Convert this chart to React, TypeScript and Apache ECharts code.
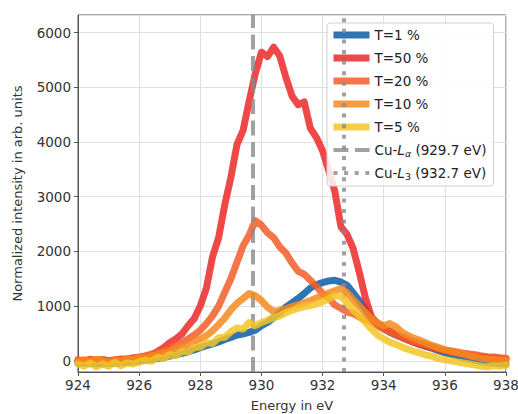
import { useEffect, useRef } from 'react';
import * as echarts from 'echarts';

const energies = [
  924.0, 924.2, 924.4, 924.6, 924.8, 925.0, 925.2, 925.4, 925.6, 925.8,
  926.0, 926.2, 926.4, 926.6, 926.8, 927.0, 927.2, 927.4, 927.6, 927.8,
  928.0, 928.2, 928.4, 928.6, 928.8, 929.0, 929.2, 929.4, 929.6, 929.8,
  930.0, 930.2, 930.4, 930.6, 930.8, 931.0, 931.2, 931.4, 931.6, 931.8,
  932.0, 932.2, 932.4, 932.6, 932.8, 933.0, 933.2, 933.4, 933.6, 933.8,
  934.0, 934.2, 934.4, 934.6, 934.8, 935.0, 935.2, 935.4, 935.6, 935.8,
  936.0, 936.2, 936.4, 936.6, 936.8, 937.0, 937.2, 937.4, 937.6, 937.8,
  938.0,
];

const t1 = [
  -40, -45, -50, -55, -55, -50, -45, -35, -25, -15,
  -5, 10, 25, 40, 60, 85, 110, 135, 165, 200,
  240, 275, 310, 345, 390, 425, 470, 490, 520, 560,
  640, 700, 790, 880, 980, 1060, 1140, 1230, 1330, 1390,
  1430, 1460, 1470, 1440, 1380, 1240, 1100, 940, 790, 680,
  590, 520, 470, 425, 380, 335, 295, 260, 225, 185,
  150, 115, 85, 55, 30, 5, -20, -35, -45, -55,
  -60,
];

const t50 = [
  10, -10, 20, 0, 15, -5, 10, 20, 30, 45,
  60, 80, 110, 170, 240, 330, 400, 490, 640, 770,
  1000, 1330, 1900, 2250, 2850, 3350, 3950, 4210, 4750, 5250,
  5640, 5560, 5730, 5570, 5180, 4840, 4680, 4730, 4250, 4080,
  3840, 3480, 3100, 2450, 2310, 2050, 1620, 1150, 800, 680,
  600, 540, 480, 430, 380, 340, 300, 270, 240, 210,
  185, 165, 145, 125, 105, 90, 75, 60, 50, 40,
  30,
];

const t20 = [
  20, 0, 30, 10, 25, 0, 20, 35, 30, 55,
  70, 90, 120, 150, 190, 230, 280, 330, 400, 470,
  560, 680, 820, 1000, 1250, 1500, 1800, 2100, 2300, 2560,
  2480, 2340, 2250, 2080, 1970, 1790, 1640, 1580, 1470, 1360,
  1230, 1150, 1020, 960, 890, 860, 800, 750, 700, 640,
  580, 530, 480, 430, 390, 350, 320, 290, 250, 220,
  200, 180, 160, 140, 125, 110, 90, 75, 70, 55,
  45,
];

const t10 = [
  -10, 20, -20, 30, 0, -30, 10, -10, 40, 20,
  60, 50, 90, 110, 150, 170, 210, 250, 300, 350,
  400, 460, 550, 660, 780, 930, 1050, 1140, 1230, 1190,
  1100, 980, 900, 920, 950, 990, 1020, 1060, 1100, 1150,
  1190, 1240, 1280, 1320, 1250, 1120, 1000, 880, 780, 690,
  640, 680, 620, 520, 460, 410, 370, 320, 280, 240,
  200, 170, 150, 120, 90, 70, 40, 30, 20, 10,
  10,
];

const t5 = [
  -60, -100, -40, -110, -60, -100, -30, -90, -40, -60,
  -20, 10, -10, 60, 40, 110, 90, 170, 160, 240,
  250, 330, 320, 420, 430, 530, 600, 580, 700, 640,
  700, 740, 790, 820, 880, 920, 960, 990, 1010, 1040,
  1080, 1130, 1190, 1180, 1060, 930, 820, 700, 580, 470,
  400, 340, 300, 250, 210, 170, 140, 100, 80, 40,
  20, 0, -20, -40, -60, -80, -100, -110, -90, -100,
  -80,
];

const seriesNames = ['T=1 %', 'T=50 %', 'T=20 %', 'T=10 %', 'T=5 %'];
const seriesValues = [t1, t50, t20, t10, t5];
const seriesColors = ['#0a5ca6', '#ec2828', '#f25e28', '#f68a1e', '#f3c525'];

const refEnergies = [929.7, 932.7];
const refNames = ['Cu-Lα (929.7 eV)', 'Cu-L3 (932.7 eV)'];
const refLabels = ['Cu-{it|L}{subi|α} (929.7 eV)', 'Cu-{it|L}{sub|3} (932.7 eV)'];
const refDash = [[15, 6.5], [4, 6.6]];

const xName = 'Energy in eV';
const yName = 'Normalized intensity in arb. units';

const FONT = 'DejaVu Sans';

export default function App() {
  const ref = useRef<HTMLDivElement>(null);
  useEffect(() => {
    if (!ref.current) return;
    const chart = echarts.init(ref.current, null, { renderer: 'svg' });
    const curveSeries = seriesNames.map((name, k) => ({
      name,
      type: 'line',
      data: energies.map((e, i) => [e, seriesValues[k][i]]),
      symbol: 'none',
      showSymbol: false,
      color: seriesColors[k],
      lineStyle: { width: 7, color: seriesColors[k], opacity: 0.85, cap: 'round', join: 'round' },
      emphasis: { disabled: true },
      z: 2 + k,
    }));
    const refSeries = refNames.map((name, k) => ({
      name,
      type: 'line',
      data: [],
      symbol: 'none',
      color: '#8a8a8a',
      lineStyle: { width: 4, color: '#8a8a8a', opacity: 0.8, type: refDash[k] },
      markLine: {
        silent: true,
        symbol: 'none',
        label: { show: false },
        emphasis: { disabled: true },
        lineStyle: { width: 4, color: '#8a8a8a', opacity: 0.8, type: refDash[k] },
        data: [{ xAxis: refEnergies[k] }],
      },
      z: 10,
    }));
    const labelMap: Record<string, string> = {};
    refNames.forEach((n, k) => (labelMap[n] = refLabels[k]));

    const legendData = [
      ...seriesNames.map((name) => ({ name, lineStyle: { width: 7, cap: 'butt' } })),
      ...refNames.map((name) => ({ name, lineStyle: { width: 4, cap: 'butt' } })),
    ];

    chart.setOption({
      animation: false,
      textStyle: { fontFamily: FONT },
      grid: {
        left: 78,
        right: 12,
        top: 15,
        bottom: 42,
        show: true,
        borderColor: '#555',
        borderWidth: 1,
        backgroundColor: 'transparent',
        outerBoundsMode: 'none',
      },
      legend: {
        orient: 'vertical',
        left: 327,
        top: 23,
        padding: [4, 7, 5, 3],
        itemWidth: 36,
        itemHeight: 14,
        itemGap: 7,
        backgroundColor: 'rgba(255,255,255,0.85)',
        borderColor: '#d0d0d0',
        borderWidth: 1,
        borderRadius: 3,
        data: legendData,
        itemStyle: { color: 'transparent', borderColor: 'transparent', borderWidth: 0, opacity: 0 },
        formatter: (name: string) => labelMap[name] ?? name,
        textStyle: {
          fontFamily: FONT,
          fontSize: 13.5,
          color: '#222',
          lineHeight: 16,
          rich: {
            it: { fontFamily: FONT, fontSize: 13.5, fontStyle: 'italic', color: '#222', lineHeight: 16 },
            subi: { fontFamily: FONT, fontSize: 9.5, fontStyle: 'italic', color: '#222', lineHeight: 10, verticalAlign: 'bottom' },
            sub: { fontFamily: FONT, fontSize: 9.5, color: '#222', lineHeight: 10, verticalAlign: 'bottom' },
          },
        },
      },
      xAxis: {
        type: 'value',
        min: 924,
        max: 938,
        interval: 2,
        name: xName,
        nameLocation: 'middle',
        nameGap: 27,
        nameTextStyle: { fontFamily: FONT, fontSize: 13, color: '#333' },
        axisLine: { show: true, onZero: false, lineStyle: { color: '#555', width: 1 } },
        axisTick: { show: true, length: 4, lineStyle: { color: '#555' } },
        axisLabel: { fontFamily: FONT, fontSize: 13.5, color: '#333', margin: 6 },
        splitLine: { show: true, lineStyle: { color: '#e0e0e0', width: 1 } },
      },
      yAxis: {
        type: 'value',
        min: -205,
        max: 6320,
        splitNumber: 5,
        name: yName,
        nameLocation: 'middle',
        nameGap: 54,
        nameTextStyle: { fontFamily: FONT, fontSize: 13, color: '#333' },
        axisLine: { show: true, onZero: false, lineStyle: { color: '#555', width: 1 } },
        axisTick: { show: true, length: 4, lineStyle: { color: '#555' } },
        axisLabel: {
          fontFamily: FONT,
          fontSize: 13.5,
          color: '#333',
          margin: 7,
          showMinLabel: false,
          showMaxLabel: false,
          formatter: (v: number) => String(v),
        },
        splitLine: { show: true, lineStyle: { color: '#e0e0e0', width: 1 } },
      },
      series: [...curveSeries, ...refSeries],
    });
    return () => chart.dispose();
  }, []);
  return <div ref={ref} style={{ position: 'absolute', left: 0, top: 0, width: 518, height: 414 }} />;
}
